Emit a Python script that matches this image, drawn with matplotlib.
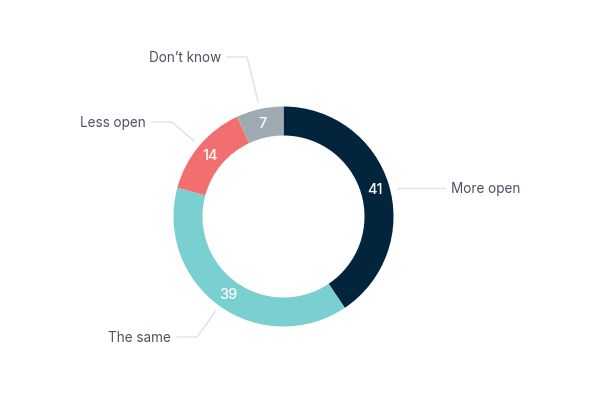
import numpy as np
import matplotlib
matplotlib.use("Agg")
import matplotlib.pyplot as plt

categories = ["More open", "The same", "Less open", "Don\u2019t know"]
values = [41, 39, 14, 7]
colors = ["#02253d", "#7acfd1", "#f26f6f", "#9eabb3"]

plt.rcParams['font.family'] = ['Inter', 'DejaVu Sans']

W, H = 600, 400
fig = plt.figure(figsize=(6, 4), dpi=100)
ax = fig.add_axes([0, 0, 1, 1])
cx, cy = 283.5, H - 216.5
R, width = 110, 29

wedges, _ = ax.pie(values, colors=colors, startangle=90, counterclock=False,
                   radius=R, center=(cx, cy), frame=True,
                   wedgeprops=dict(width=width, edgecolor='none', linewidth=0))

ax.set_xlim(0, W)
ax.set_ylim(0, H)
ax.set_aspect('equal')
ax.axis('off')

text_color = "#4b5361"
line_color = "#dde2e8"
# label layout: (side, text y px, elbow x px)
layout = {
    "More open": ("right", 188, None),
    "The same": ("left", 337, 197),
    "Less open": ("left", 122, 172),
    "Don\u2019t know": ("left", 57, 247),
}

for w, cat, val in zip(wedges, categories, values):
    mid = np.deg2rad((w.theta1 + w.theta2) / 2)
    rm = R - width / 2
    ax.text(cx + rm * np.cos(mid), cy + rm * np.sin(mid) - 1, str(val),
            color='white', fontsize=10.5, fontweight='medium', ha='center', va='center')
    side, ty, ex = layout[cat]
    ty = H - ty
    r0 = R + 7
    if ex is None:
        dy = ty - cy
        x0 = cx + np.sqrt(r0**2 - dy**2)
        xs = [x0, x0 + 48]
        ys = [ty, ty]
        ax.plot(xs, ys, color=line_color, lw=1, solid_capstyle='butt')
        ax.text(xs[-1] + 6, ty - 1, cat, color=text_color, fontsize=9.75,
                ha='left', va='center')
    else:
        x0 = cx + r0 * np.cos(mid)
        y0 = cy + r0 * np.sin(mid)
        xs = [x0, ex, ex - 20]
        ys = [y0, ty, ty]
        ax.plot(xs, ys, color=line_color, lw=1)
        ax.text(ex - 26, ty - 1, cat, color=text_color, fontsize=9.75,
                ha='right', va='center')

fig.savefig("out.png", dpi=100, facecolor='white')
